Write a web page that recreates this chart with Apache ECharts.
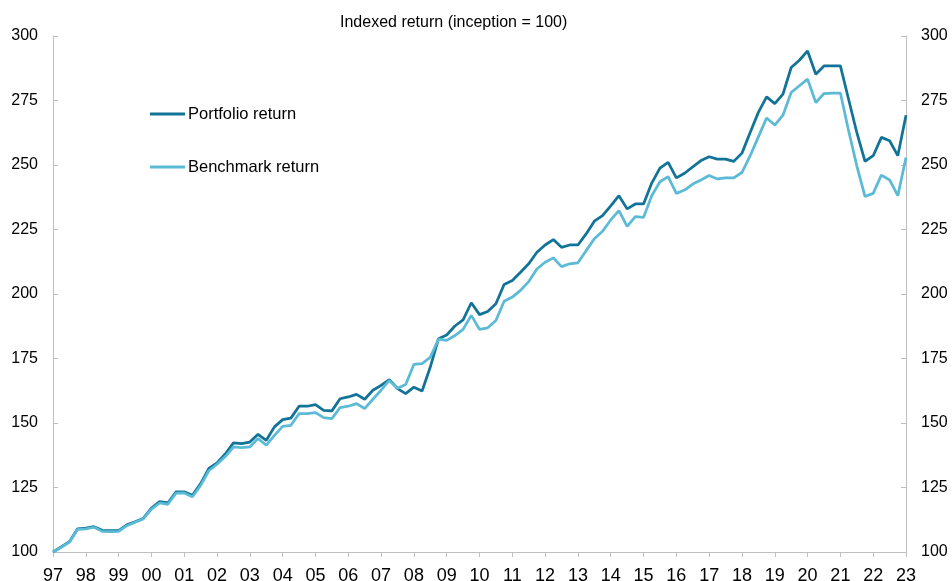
<!DOCTYPE html>
<html>
<head>
<meta charset="utf-8">
<script src="https://cdn.jsdelivr.net/npm/echarts@6/dist/echarts.min.js"></script>
<style>
  html, body { margin: 0; padding: 0; background: #fff; }
  #chart { width: 952px; height: 581px; }
</style>
</head>
<body>
<div id="chart"></div>
<script>
// year labels shown on the x axis (one tick per year, data is quarterly)
const years = ['97', '98', '99', '00', '01', '02', '03', '04', '05', '06', '07', '08', '09',
    '10', '11', '12', '13', '14', '15', '16', '17', '18', '19', '20', '21', '22', '23'];

// quarterly index values, 97 Q1 .. 23 Q1
const portfolio = [
    100, 102, 104, 109, 109.3, 109.8, 108.4, 108.3, 108.3, 110.5, 111.7, 113,
    117, 119.5, 119, 123.3, 123.3, 122, 126.5, 132.4, 134.5, 138, 142.3, 142,
    142.6, 145.6, 143.3, 148.5, 151.3, 151.9, 156.5, 156.5, 157.1, 154.9, 154.7, 159.4,
    160.1, 161.1, 159.2, 162.7, 164.6, 166.8, 163.3, 161.4, 163.9, 162.4, 171.7, 182.7,
    184.1, 187.6, 190, 196.6, 192, 193.2, 196.2, 203.7, 205.2, 208.4, 211.7, 216.2,
    219, 221.1, 218.1, 219, 219, 223.3, 228.2, 230.4, 234.2, 238.1, 233, 234.9,
    234.9, 243, 248.8, 251, 245, 246.8, 249.3, 251.7, 253.2, 252.3, 252.3, 251.4,
    254.6, 262.6, 270.4, 276.4, 273.8, 277.5, 287.8, 290.6, 294.2, 285.2, 288.4, 288.4,
    288.4, 275.5, 262.6, 251.4, 253.6, 260.7, 259.4, 253.6, 269.3
];
const benchmark = [
    100, 101.8, 103.8, 108.8, 109, 109.6, 108, 107.9, 108, 110.2, 111.5, 112.8,
    116.6, 119, 118.5, 122.8, 122.9, 121.4, 125.8, 131.5, 134, 137, 140.7, 140.5,
    140.7, 144, 141.4, 145.2, 148.7, 149.1, 153.6, 153.6, 154, 152.1, 151.7, 156,
    156.5, 157.5, 155.6, 159.2, 162.7, 166.5, 163.5, 164.9, 172.7, 173, 175.5, 182.5,
    182, 183.9, 186.3, 191.7, 186.3, 186.9, 189.7, 197.2, 198.8, 201.4, 204.8, 209.7,
    212.3, 214, 210.6, 211.7, 212.1, 216.8, 221.4, 224.3, 228.7, 232.3, 226.2, 230,
    229.7, 238.1, 243.5, 245.5, 239, 240.3, 242.6, 244.2, 245.9, 244.6, 245, 245,
    247.1, 253.6, 260.9, 268.2, 265.5, 269.3, 278.1, 280.7, 283.3, 274.2, 277.7, 277.9,
    277.9, 263.3, 249.7, 237.8, 239, 246.1, 244.2, 238.1, 252.9
];

// one category per quarter; only the first quarter of each year carries the label
const quarters = [];
years.forEach(function(y, i) {
    const n = (i === years.length - 1) ? 1 : 4;
    for (let q = 1; q <= n; q++) {
        quarters.push(y + ' Q' + q);
    }
});

document.addEventListener('DOMContentLoaded', function() {
    const chart = echarts.init(document.getElementById('chart'));
    const axisGrey = '#bfbfbf';
    const font = 'Liberation Sans';

    const yAxisBase = {
        type: 'value',
        min: 100,
        max: 300,
        interval: 25,
        splitLine: { show: false },
        axisLine: { show: true, lineStyle: { color: axisGrey } },
        axisTick: { show: true, inside: true, length: 5, lineStyle: { color: axisGrey } },
        axisLabel: { color: '#000', fontSize: 16, fontFamily: font, margin: 15 }
    };

    const option = {
        animation: false,
        title: {
            text: 'Indexed return (inception = 100)',
            left: 335,
            top: 10,
            textStyle: { fontSize: 16, fontWeight: 'normal', color: '#000', fontFamily: font }
        },
        legend: {
            orient: 'vertical',
            left: 145,
            top: 100,
            icon: 'rect',
            itemWidth: 35,
            itemHeight: 3,
            itemGap: 35,
            textStyle: { fontSize: 16.5, lineHeight: 18, color: '#000', fontFamily: font, padding: [0, 0, 0, -2] },
            data: ['Portfolio return', 'Benchmark return']
        },
        grid: {
            left: 53,
            right: 46,
            top: 36,
            bottom: 29,
            outerBoundsMode: 'none'
        },
        xAxis: {
            type: 'category',
            boundaryGap: false,
            data: quarters,
            axisLine: { lineStyle: { color: axisGrey } },
            axisTick: { interval: 3, length: 5, lineStyle: { color: axisGrey } },
            axisLabel: {
                interval: 3,
                color: '#000',
                fontSize: 18,
                fontFamily: font,
                margin: 15,
                formatter: function(v) { return v.split(' ')[0]; }
            }
        },
        yAxis: [
            Object.assign({}, yAxisBase, { position: 'left' }),
            Object.assign({}, yAxisBase, { position: 'right' })
        ],
        series: [
            {
                name: 'Portfolio return',
                type: 'line',
                data: portfolio,
                symbol: 'none',
                lineStyle: { width: 2.75, color: '#117397' },
                itemStyle: { color: '#117397' }
            },
            {
                name: 'Benchmark return',
                type: 'line',
                data: benchmark,
                symbol: 'none',
                lineStyle: { width: 2.75, color: '#5bbad5' },
                itemStyle: { color: '#5bbad5' }
            }
        ]
    };

    chart.setOption(option);
});
</script>
</body>
</html>
